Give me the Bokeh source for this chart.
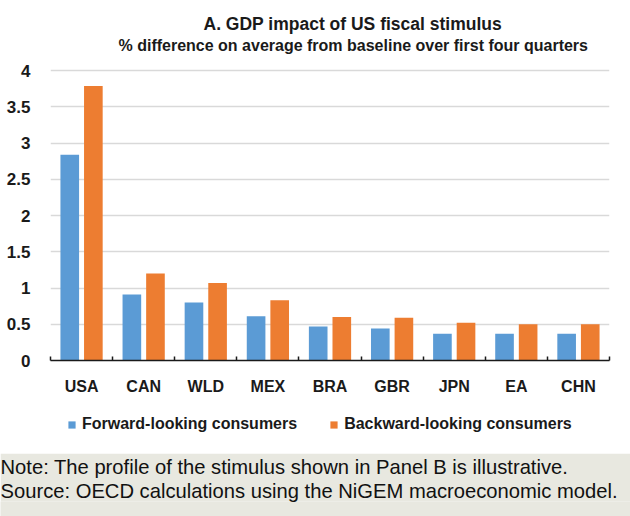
from bokeh.plotting import figure
from bokeh.models import (FixedTicker, Legend, LegendItem, Title, ColumnDataSource)
from bokeh.layouts import column
from bokeh.embed import file_html
from bokeh.resources import INLINE
import numpy as np

# ---- data ----
categories = ["USA", "CAN", "WLD", "MEX", "BRA", "GBR", "JPN", "EA", "CHN"]
forward_looking = [2.84, 0.91, 0.80, 0.61, 0.47, 0.44, 0.37, 0.37, 0.37]
backward_looking = [3.79, 1.20, 1.07, 0.83, 0.60, 0.59, 0.52, 0.50, 0.50]
y_ticks = [0, 0.5, 1, 1.5, 2, 2.5, 3, 3.5, 4]
y_tick_labels = ["0", "0.5", "1", "1.5", "2", "2.5", "3", "3.5", "4"]
series_names = ["Forward-looking consumers", "Backward-looking consumers"]
title_text = "A. GDP impact of US fiscal stimulus"
subtitle_text = "% difference on average from baseline over first four quarters"
note_text = "Note: The profile of the stimulus shown in Panel B is illustrative."
source_text = "Source: OECD calculations using the NiGEM macroeconomic model."

BLUE = "#5b9bd5"
ORANGE = "#ed7d31"
BEIGE = "#e8e8e0"
FONT = "Liberation Sans"
INK = "#1a1a1a"

idx = np.arange(len(categories))
centers = idx + 0.5
src = ColumnDataSource(dict(
    xf=centers - 0.19, xb=centers + 0.19,
    f=forward_looking, b=backward_looking))

# ---------------- chart ----------------
p = figure(width=622, height=402, x_range=(0, len(categories)), y_range=(0, 4.237),
           toolbar_location=None, output_backend="svg",
           min_border_left=41, min_border_right=16, min_border_top=50,
           min_border_bottom=45)
p.frame_align = False
p.margin = (3, 5, 0, 3)
p.background_fill_color = "white"
p.border_fill_color = "white"
p.outline_line_color = None

p.vbar(x="xf", top="f", width=0.30, source=src, color=BLUE, line_color=None)
p.vbar(x="xb", top="b", width=0.30, source=src, color=ORANGE, line_color=None)

# titles (added inner-first)
p.add_layout(Title(text=subtitle_text, align="left", offset=68, standoff=0,
                   text_font=FONT, text_font_size="16px", text_font_style="bold",
                   text_color=INK), "above")
p.add_layout(Title(text=title_text, align="left", offset=153, standoff=2,
                   text_font=FONT, text_font_size="17.5px", text_font_style="bold",
                   text_color=INK), "above")

# y axis
p.yaxis.ticker = FixedTicker(ticks=y_ticks)
p.yaxis.major_label_overrides = {t: l for t, l in zip(y_ticks, y_tick_labels)}
p.yaxis.axis_line_color = None
p.yaxis.major_tick_line_color = None
p.yaxis.minor_tick_line_color = None
p.yaxis.major_label_standoff = 14
p.yaxis.major_label_text_font = FONT
p.yaxis.major_label_text_font_size = "17px"
p.yaxis.major_label_text_font_style = "bold"
p.yaxis.major_label_text_color = INK

p.ygrid.ticker = FixedTicker(ticks=y_ticks)
p.ygrid.grid_line_color = "#d9d9d9"
p.ygrid.grid_line_width = 1.5
p.xgrid.grid_line_color = None

# x axis: labels at category centers, small ticks at category boundaries
p.xaxis.ticker = FixedTicker(ticks=list(centers), minor_ticks=list(idx) + [len(categories)])
p.xaxis.major_label_overrides = {float(c): n for c, n in zip(centers, categories)}
p.xaxis.major_tick_in = 0
p.xaxis.major_tick_out = 0
p.xaxis.minor_tick_in = 4
p.xaxis.minor_tick_out = 0
p.xaxis.minor_tick_line_color = INK
p.xaxis.minor_tick_line_width = 1.5
p.xaxis.axis_line_color = INK
p.xaxis.axis_line_width = 1.5
p.xaxis.major_label_standoff = 17
p.xaxis.major_label_text_font = FONT
p.xaxis.major_label_text_font_size = "16px"
p.xaxis.major_label_text_font_style = "bold"
p.xaxis.major_label_text_color = INK

# ---------------- legend strip (same series, kept out of view) ----------------
lf = figure(width=622, height=48, x_range=(0, len(categories)), y_range=(100, 101),
            x_axis_location=None, y_axis_location=None,
            toolbar_location=None, output_backend="svg",
            min_border_left=0, min_border_right=0, min_border_top=0, min_border_bottom=0)
lf.frame_align = False
lf.margin = (0, 5, 0, 3)
lf.grid.visible = False
lf.outline_line_color = None
lf.background_fill_color = "white"
lf.border_fill_color = "white"
lrf = lf.vbar(x="xf", top="f", width=0.30, source=src, color=BLUE, line_color=None)
lrb = lf.vbar(x="xb", top="b", width=0.30, source=src, color=ORANGE, line_color=None)
legend = Legend(items=[LegendItem(label=series_names[0], renderers=[lrf]),
                       LegendItem(label=series_names[1], renderers=[lrb])],
                orientation="horizontal", location=(64, 20),
                glyph_width=9, glyph_height=9, label_standoff=6, spacing=32,
                label_text_font=FONT, label_text_font_size="16px",
                label_text_font_style="bold", label_text_color=INK,
                border_line_color=None, background_fill_alpha=0, margin=0, padding=0)
lf.add_layout(legend, "center")

# ---------------- notes ----------------
n = figure(width=630, height=63, x_range=(0, 1), y_range=(0, 1),
           x_axis_location=None, y_axis_location=None,
           toolbar_location=None, output_backend="svg",
           min_border_left=0, min_border_right=0, min_border_top=0, min_border_bottom=0)
n.frame_align = False
n.grid.visible = False
n.outline_line_color = None
n.background_fill_color = BEIGE
n.border_fill_color = BEIGE
n.add_layout(Title(text=source_text, align="left", offset=0, standoff=0,
                   text_font=FONT, text_font_size="20.2px", text_font_style="normal",
                   text_color="#111111"), "above")
n.add_layout(Title(text=note_text, align="left", offset=0, standoff=0,
                   text_font=FONT, text_font_size="20.2px", text_font_style="normal",
                   text_color="#111111"), "above")

layout = column(p, lf, n, spacing=0)
html = file_html(layout, INLINE)
html = html.replace("<body>", '<body style="background-color:%s">' % BEIGE, 1)
open("out.html", "w").write(html)
